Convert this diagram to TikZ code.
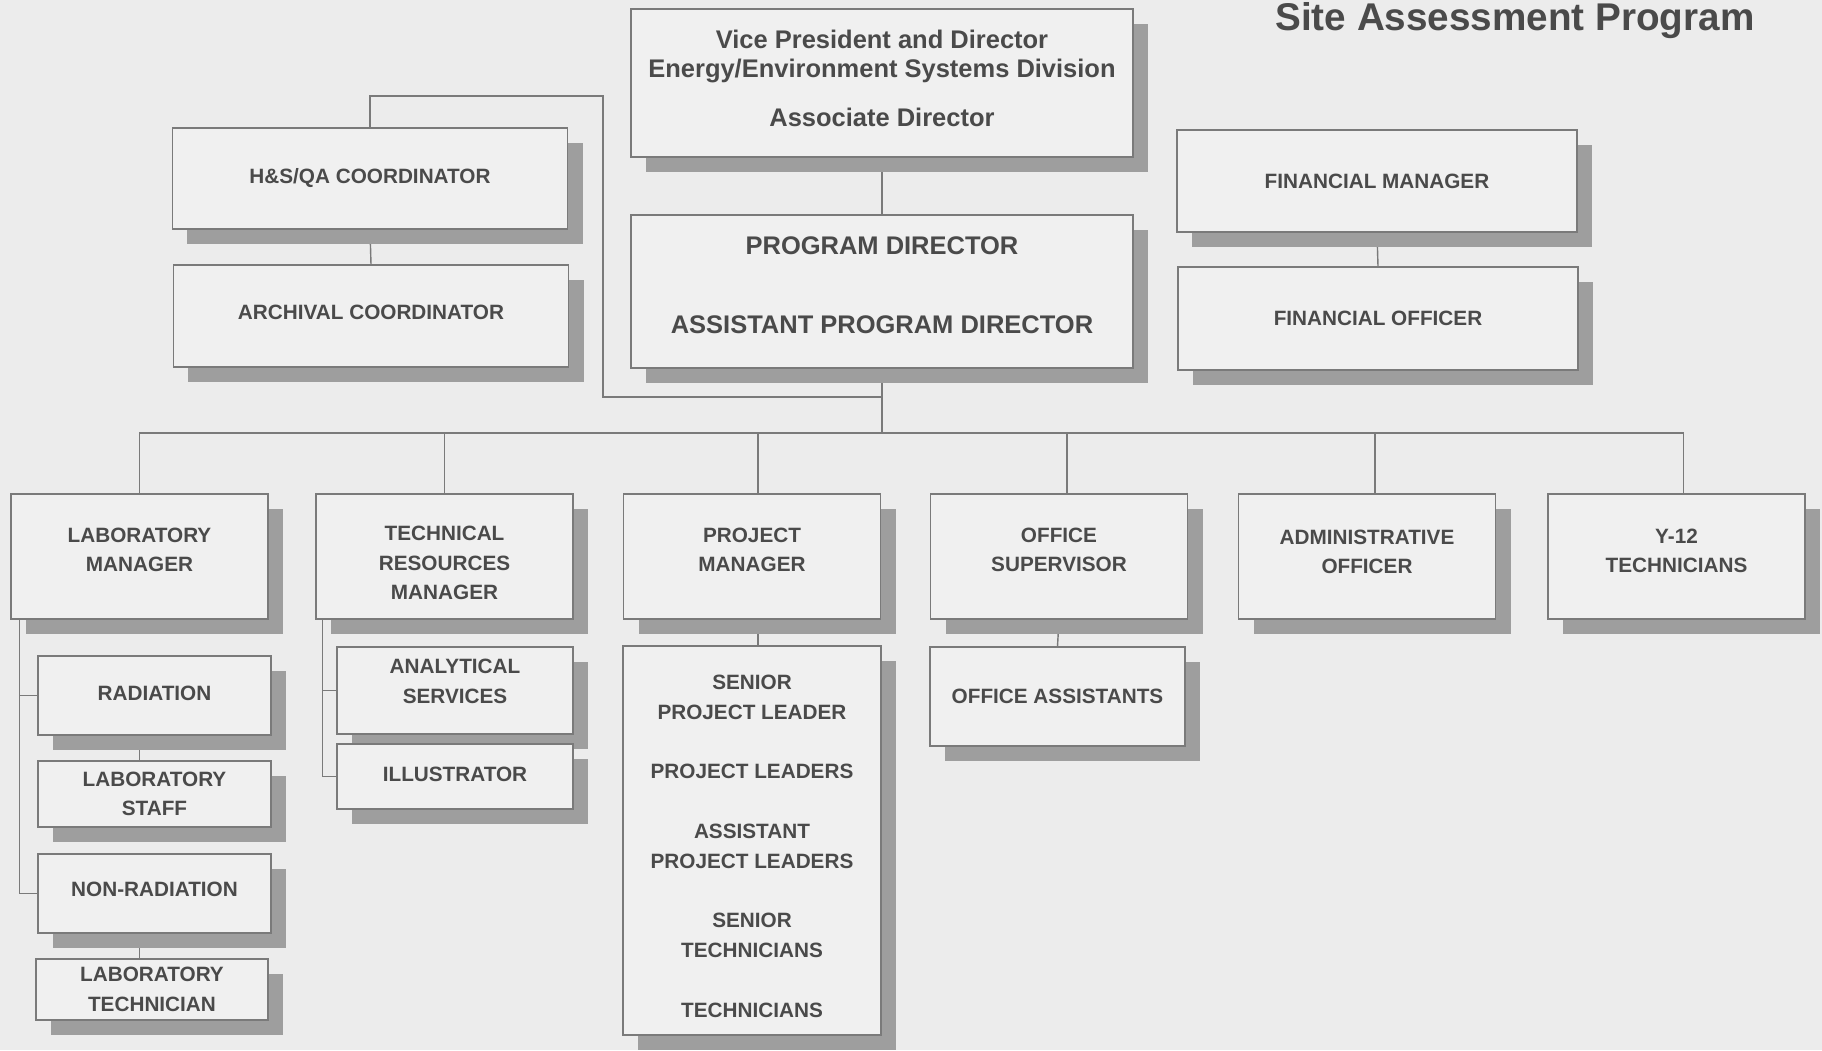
\documentclass[tikz,border=0pt]{standalone}
\usepackage{fontspec}
\setmainfont{Liberation Sans}
\usetikzlibrary{shadows,backgrounds}
\definecolor{paper}{HTML}{ECECEC}
\definecolor{boxfill}{HTML}{F0F0F0}
\definecolor{linegray}{HTML}{7A7A7A}
\definecolor{shadowgray}{HTML}{9E9E9E}
\definecolor{textgray}{HTML}{4A4A4A}
\newcommand{\orgsmall}{\fontsize{11.8}{16.8}\selectfont\bfseries}
\newcommand{\orgbig}{\fontsize{14.5}{16.3}\selectfont\bfseries}
\newcommand{\txtup}[1]{\rule[-#1]{0pt}{#1}}
\newcommand{\txtdown}[1]{\rule{0pt}{#1}}

\begin{document}
\begin{tikzpicture}[x=0.2mm,y=-0.2mm,
        box/.style={draw=linegray, fill=boxfill, line width=0.8pt, inner sep=0pt, align=center, text=textgray, font=\orgsmall,
            drop shadow={shadow xshift=3mm, shadow yshift=-3mm, fill=shadowgray, opacity=1}},
        rowbox/.style={box, minimum width=51.4mm, minimum height=25mm},
        link/.style={draw=linegray, line width=0.8pt}]
        \useasboundingbox (0,0) rectangle (1822,1050);
        \node[anchor=base, text=textgray, font=\fontsize{22}{24}\selectfont\bfseries] (title) at (1515,30) {Site Assessment Program};

        \node[box, font=\orgbig, minimum width=100.4mm, minimum height=29.6mm] (vp) at (882,83) {Vice President and Director\\Energy/Environment Systems Division\\[12pt]Associate Director\txtup{5.3pt}};
        \node[box, font=\orgbig, minimum width=100.4mm, minimum height=30.6mm] (pd) at (882,291.5) {PROGRAM DIRECTOR\\[29pt]ASSISTANT PROGRAM DIRECTOR\txtup{7.3pt}};
        \node[box, minimum width=79mm, minimum height=20.2mm] (hs) at (370,178.5) {H\&S/QA COORDINATOR};
        \node[box, minimum width=79mm, minimum height=20.4mm] (arch) at (371,316) {ARCHIVAL COORDINATOR\txtup{4pt}};
        \node[box, minimum width=80mm, minimum height=20.4mm] (fm) at (1377,181) {FINANCIAL MANAGER};
        \node[box, minimum width=80mm, minimum height=20.6mm] (fo) at (1378,318.5) {FINANCIAL OFFICER};

        \node[rowbox] (lm) at (139.5,556.5) {LABORATORY\\MANAGER\txtup{7.5pt}};
        \node[rowbox] (trm) at (444.5,556.5) {\txtdown{15.8pt}TECHNICAL\\RESOURCES\\MANAGER};
        \node[rowbox] (pm) at (752,556.5) {PROJECT\\MANAGER\txtup{7.5pt}};
        \node[rowbox] (os) at (1059,556.5) {OFFICE\\SUPERVISOR\txtup{7.5pt}};
        \node[rowbox] (ao) at (1367,556.5) {ADMINISTRATIVE\\OFFICER\txtup{5.5pt}};
        \node[rowbox] (y12) at (1676.5,556.5) {Y-12\\TECHNICIANS\txtup{6.5pt}};

        \node[box, minimum width=46.6mm, minimum height=15.8mm] (rad) at (154.5,695.5) {RADIATION\txtup{2.5pt}};
        \node[box, minimum width=46.6mm, minimum height=13.2mm] (staff) at (154.5,794) {LABORATORY\\STAFF};
        \node[box, minimum width=46.6mm, minimum height=15.8mm] (nonrad) at (154.5,893.5) {NON-RADIATION\txtup{5.3pt}};
        \node[box, minimum width=46.4mm, minimum height=12.2mm] (labtech) at (152,989.5) {LABORATORY\\TECHNICIAN};

        \node[box, minimum width=47.2mm, minimum height=17.4mm] (anal) at (455,690.5) {ANALYTICAL\\SERVICES\txtup{10.6pt}};
        \node[box, minimum width=47.2mm, minimum height=13mm] (illus) at (455,776.5) {ILLUSTRATOR\txtup{2.5pt}};

        \node[box, minimum width=51.6mm, minimum height=77.8mm] (pmstaff) at (752,840.5) {\txtdown{15.2pt}SENIOR\\PROJECT LEADER\\[17.2pt]PROJECT LEADERS\\[17.2pt]ASSISTANT\\PROJECT LEADERS\\[17.2pt]SENIOR\\TECHNICIANS\\[17.6pt]TECHNICIANS};
        \node[box, minimum width=51mm, minimum height=19.8mm] (oa) at (1057.5,696.5) {OFFICE ASSISTANTS};

        \coordinate (loop) at (603,96);
        \coordinate (bus) at (882,433);
        \coordinate (lmspine) at ([xshift=1.8mm]lm.south west);
        \coordinate (trmspine) at ([xshift=1.4mm]trm.south west);

        \begin{scope}[on background layer]
        \fill[paper] (0,0) rectangle (1822,1050);
        \draw[link] (vp.south) -- (pd.north);
        \draw[link] (hs.south) -- (arch.north);
        \draw[link] (fm.south) -- (fo.north);
        \draw[link] (hs.north) |- (loop) |- (pd.south |- 0,397);
        \draw[link] (pd.south) -- (bus);
        \draw[link] (lm.north) |- (bus) -| ([xshift=1.4mm]y12.north);
        \foreach \n/\dx in {trm/0mm,pm/1.2mm,os/1.6mm,ao/1.6mm}
            \draw[link] ([xshift=\dx]\n.north) -- ([xshift=\dx]\n.north |- bus);
        \draw[link] (lmspine) |- (nonrad.west);
        \draw[link] (lmspine |- rad.west) -- (rad.west);
        \draw[link] (rad.south -| lm.south) -- (staff.north -| lm.south);
        \draw[link] (nonrad.south -| lm.south) -- (labtech.north -| lm.south);
        \draw[link] (trmspine) |- (illus.west);
        \draw[link] (trmspine |- anal.west) -- (anal.west);
        \draw[link] ([xshift=1.2mm]pm.south) -- ([xshift=1.2mm]pmstaff.north);
        \draw[link] (os.south) -- (oa.north);
        \end{scope}
    \end{tikzpicture}
\end{document}
